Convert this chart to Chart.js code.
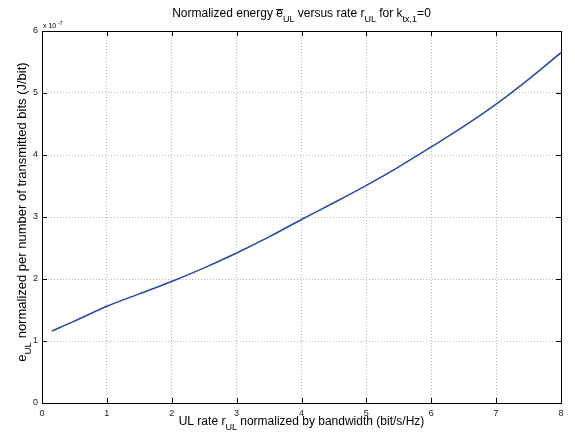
<!DOCTYPE html>
<html>
<head>
<meta charset="utf-8">
<script src="https://cdn.jsdelivr.net/npm/chart.js@4/dist/chart.umd.min.js"></script>
<style>
  body { margin: 0; background: #fff; }
  canvas { display: block; }
</style>
</head>
<body>
<canvas id="energy-chart" width="575" height="432"></canvas>
<script>
// UL rate (bit/s/Hz) and normalized energy (x 10^-7 J/bit)
var rate = [0.15, 0.5, 1, 1.5, 2, 2.5, 3, 3.5, 4, 4.5, 5, 5.5, 6, 6.5, 7, 7.5, 8];
var energy = [1.16, 1.32, 1.56, 1.76, 1.96, 2.18, 2.42, 2.68, 2.96, 3.23, 3.51, 3.81, 4.13, 4.46, 4.82, 5.22, 5.65];
var xTicks = [0, 1, 2, 3, 4, 5, 6, 7, 8];
var yTicks = [0, 1, 2, 3, 4, 5, 6];

var FONT = "'Liberation Sans', Helvetica, Arial, sans-serif";

// draws text made of pieces, some of them subscript / overlined
function richText(ctx, parts, x, y, size, rotate) {
  ctx.save();
  ctx.translate(x, y);
  if (rotate) ctx.rotate(-Math.PI / 2);
  var total = 0;
  parts.forEach(function (p) {
    ctx.font = (p.sub ? size * 0.75 : size) + 'px ' + FONT;
    p.w = ctx.measureText(p.t).width;
    total += p.w;
  });
  var cx = -total / 2;
  ctx.fillStyle = '#000';
  ctx.strokeStyle = '#000';
  ctx.textBaseline = 'alphabetic';
  ctx.textAlign = 'left';
  parts.forEach(function (p) {
    ctx.font = (p.sub ? size * 0.75 : size) + 'px ' + FONT;
    var dy = p.sub ? size * 0.38 : 0;
    ctx.fillText(p.t, cx, dy);
    if (p.over) {
      ctx.lineWidth = 1;
      ctx.beginPath();
      ctx.moveTo(cx, -size * 0.62);
      ctx.lineTo(cx + p.w, -size * 0.62);
      ctx.stroke();
    }
    cx += p.w;
  });
  ctx.restore();
}

var matlabFrame = {
  id: 'matlabFrame',
  afterDraw: function (chart) {
    var ctx = chart.ctx;
    var a = chart.chartArea;
    var xs = chart.scales.x, ys = chart.scales.y;
    ctx.save();
    ctx.strokeStyle = '#000';
    ctx.lineWidth = 1;
    ctx.strokeRect(Math.round(a.left) + 0.5, Math.round(a.top) + 0.5,
      Math.round(a.right - a.left), Math.round(a.bottom - a.top));
    // inward tick marks on all four sides
    ctx.beginPath();
    xTicks.forEach(function (v) {
      var px = Math.round(xs.getPixelForValue(v)) + 0.5;
      ctx.moveTo(px, a.bottom); ctx.lineTo(px, a.bottom - 5);
      ctx.moveTo(px, a.top); ctx.lineTo(px, a.top + 5);
    });
    yTicks.forEach(function (v) {
      var py = Math.round(ys.getPixelForValue(v)) + 0.5;
      ctx.moveTo(a.left, py); ctx.lineTo(a.left + 5, py);
      ctx.moveTo(a.right, py); ctx.lineTo(a.right - 5, py);
    });
    ctx.stroke();
    ctx.restore();

    // exponent label
    ctx.save();
    ctx.fillStyle = '#000';
    ctx.font = '7px ' + FONT;
    ctx.textBaseline = 'alphabetic';
    ctx.fillText('x 10', a.left + 1, a.top - 3);
    ctx.font = '5px ' + FONT;
    ctx.fillText('-7', a.left + 16, a.top - 6);
    ctx.restore();

    var midX = (a.left + a.right) / 2;
    richText(ctx, [
      { t: 'Normalized energy ' }, { t: 'e', over: true }, { t: 'UL', sub: true },
      { t: ' versus rate r' }, { t: 'UL', sub: true },
      { t: ' for k' }, { t: 'tx,1', sub: true }, { t: '=0' }
    ], midX, 17, 12, false);
    richText(ctx, [
      { t: 'UL rate r' }, { t: 'UL', sub: true },
      { t: ' normalized by bandwidth (bit/s/Hz)' }
    ], midX, 425, 12, false);
    richText(ctx, [
      { t: 'e' }, { t: 'UL', sub: true },
      { t: ' normalized per number of transmitted bits (J/bit)' }
    ], 26, 212, 13, true);
  }
};

new Chart(document.getElementById('energy-chart'), {
  type: 'scatter',
  data: {
    datasets: [{
      label: 'e_UL',
      data: rate.map(function (r, i) { return { x: r, y: energy[i] }; }),
      showLine: true,
      borderColor: '#2846a8',
      borderWidth: 1.5,
      pointRadius: 0,
      cubicInterpolationMode: 'monotone',
      fill: false
    }]
  },
  options: {
    responsive: false,
    animation: false,
    layout: { padding: { left: 0, right: 14, top: 31, bottom: 0 } },
    plugins: {
      legend: { display: false },
      title: { display: false },
      tooltip: { enabled: false }
    },
    scales: {
      x: {
        type: 'linear',
        min: 0, max: 8,
        afterBuildTicks: function (s) { s.ticks = xTicks.map(function (v) { return { value: v }; }); },
        afterFit: function (s) { s.height = 29; },
        grid: { color: '#b8b8b8', lineWidth: 1, drawTicks: false },
        border: { display: false, dash: [1, 2] },
        ticks: { padding: 5, color: '#222', font: { family: FONT, size: 9 }, maxRotation: 0 }
      },
      y: {
        type: 'linear',
        min: 0, max: 6,
        afterBuildTicks: function (s) { s.ticks = yTicks.map(function (v) { return { value: v }; }); },
        afterFit: function (s) { s.width = 42; },
        grid: { color: '#b8b8b8', lineWidth: 1, drawTicks: false },
        border: { display: false, dash: [1, 2] },
        ticks: { padding: 4, color: '#222', font: { family: FONT, size: 9 } }
      }
    }
  },
  plugins: [matlabFrame]
});
</script>
</body>
</html>
